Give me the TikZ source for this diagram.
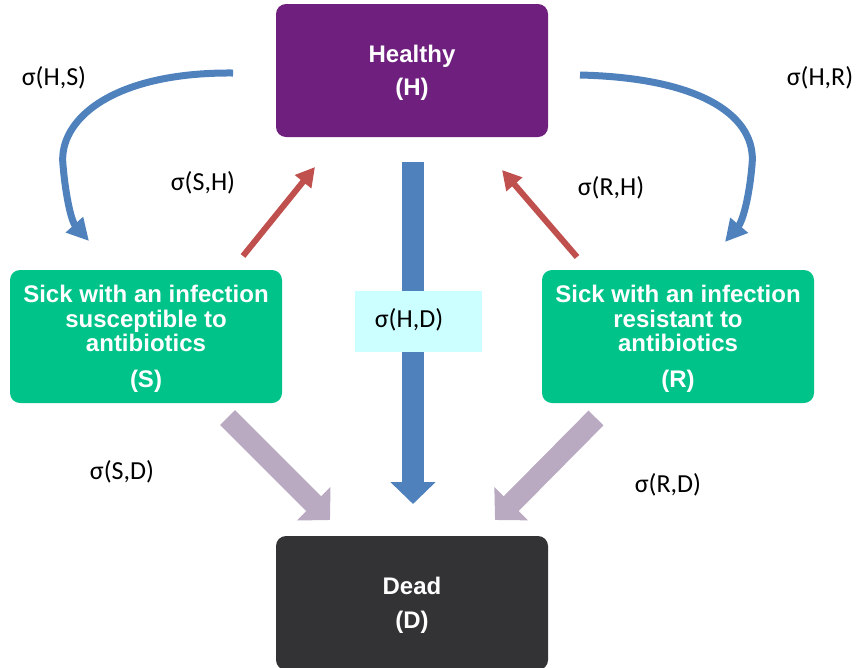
\documentclass[tikz,border=0pt]{standalone}
\usepackage{fontspec}
\setmainfont{Liberation Sans}
\newfontfamily\lblfont{Carlito}
\usetikzlibrary{arrows.meta}
\definecolor{hpurple}{RGB}{111,32,127}
\definecolor{sgreen}{RGB}{0,195,137}
\definecolor{ddark}{RGB}{51,51,53}
\definecolor{ablue}{RGB}{79,129,189}
\definecolor{ared}{RGB}{192,80,77}
\definecolor{alav}{RGB}{185,170,193}
\definecolor{lcyan}{RGB}{204,255,255}
\begin{document}
\begin{tikzpicture}[x=1pt,y=-1pt,
  box/.style={rounded corners=10pt, minimum width=272pt, minimum height=133pt, inner sep=0pt,
    text=white, font=\fontsize{24}{24.5}\selectfont\bfseries, align=center, text depth=0pt},
  lbl/.style={font=\lblfont\fontsize{26}{28}\selectfont, inner sep=0pt},
  bluecurve/.style={draw=ablue, line width=7pt, -{Triangle[width=22pt,length=22pt]}},
  redarrow/.style={draw=ared, line width=6pt, -{Triangle[width=20pt,length=19pt]}},
  lavarrow/.style={draw=alav, line width=21pt, -{Triangle[width=46pt,length=23pt]}},
  downarrow/.style={draw=ablue, line width=22pt, -{Triangle[width=44pt,length=22pt]}}]
\useasboundingbox (0,0) rectangle (856,667);
\clip (0,0) rectangle (856,667);

% boxes
\node[box, fill=hpurple] (H) at (412,70.5) {Healthy\\[9pt](H)};
\node[box, fill=sgreen] (S) at (146,336.5) {Sick with an infection\\susceptible to\\antibiotics\\[11pt](S)};
\node[box, fill=sgreen] (R) at (678,336.5) {Sick with an infection\\resistant to\\antibiotics\\[11pt](R)};
\node[box, fill=ddark, minimum height=134pt] (D) at (412,603) {Dead\\[9pt](D)};

% connector end points
\coordinate (hs1) at (233,73);
\coordinate (hs2) at (89,241);
\coordinate (hr1) at (580,75);
\coordinate (hr2) at (725,242);
\coordinate (sh1) at (243,256);
\coordinate (sh2) at (315,167);
\coordinate (rh1) at (577,257);
\coordinate (rh2) at (502,170);
\coordinate (sd1) at (227.5,417.5);
\coordinate (sd2) at (330,520);
\coordinate (rd1) at (596,418);
\coordinate (rd2) at (495,520);
\coordinate (hd1) at (413,162);
\coordinate (hd2) at (413,504);

% H -> D
\draw[downarrow] (hd1) -- (hd2);
\node[fill=lcyan, minimum width=127pt, minimum height=61pt, inner sep=0pt] (HDbox) at (418.5,321.5) {};
\node[lbl] (HD) at (409,320) {σ(H,D)};

% H -> S, H -> R
\draw[bluecurve] (hs1) .. controls (112,72) and (58,120) .. (63,165) .. controls (66,200) and (72,222) .. (hs2);
\draw[bluecurve] (hr1) .. controls (705,78) and (757,118) .. (752,165) .. controls (749,200) and (742,222) .. (hr2);

% S -> H, R -> H
\draw[redarrow] (sh1) -- (sh2);
\draw[redarrow] (rh1) -- (rh2);

% S -> D, R -> D
\draw[lavarrow] (sd1) -- (sd2);
\draw[lavarrow] (rd1) -- (rd2);

% labels
\node[lbl] (lHS) at (54,78) {σ(H,S)};
\node[lbl] (lSH) at (203,183) {σ(S,H)};
\node[lbl] (lHR) at (820,78) {σ(H,R)};
\node[lbl] (lRH) at (611,188) {σ(R,H)};
\node[lbl] (lSD) at (122,472) {σ(S,D)};
\node[lbl] (lRD) at (668,485) {σ(R,D)};
\end{tikzpicture}
\end{document}
